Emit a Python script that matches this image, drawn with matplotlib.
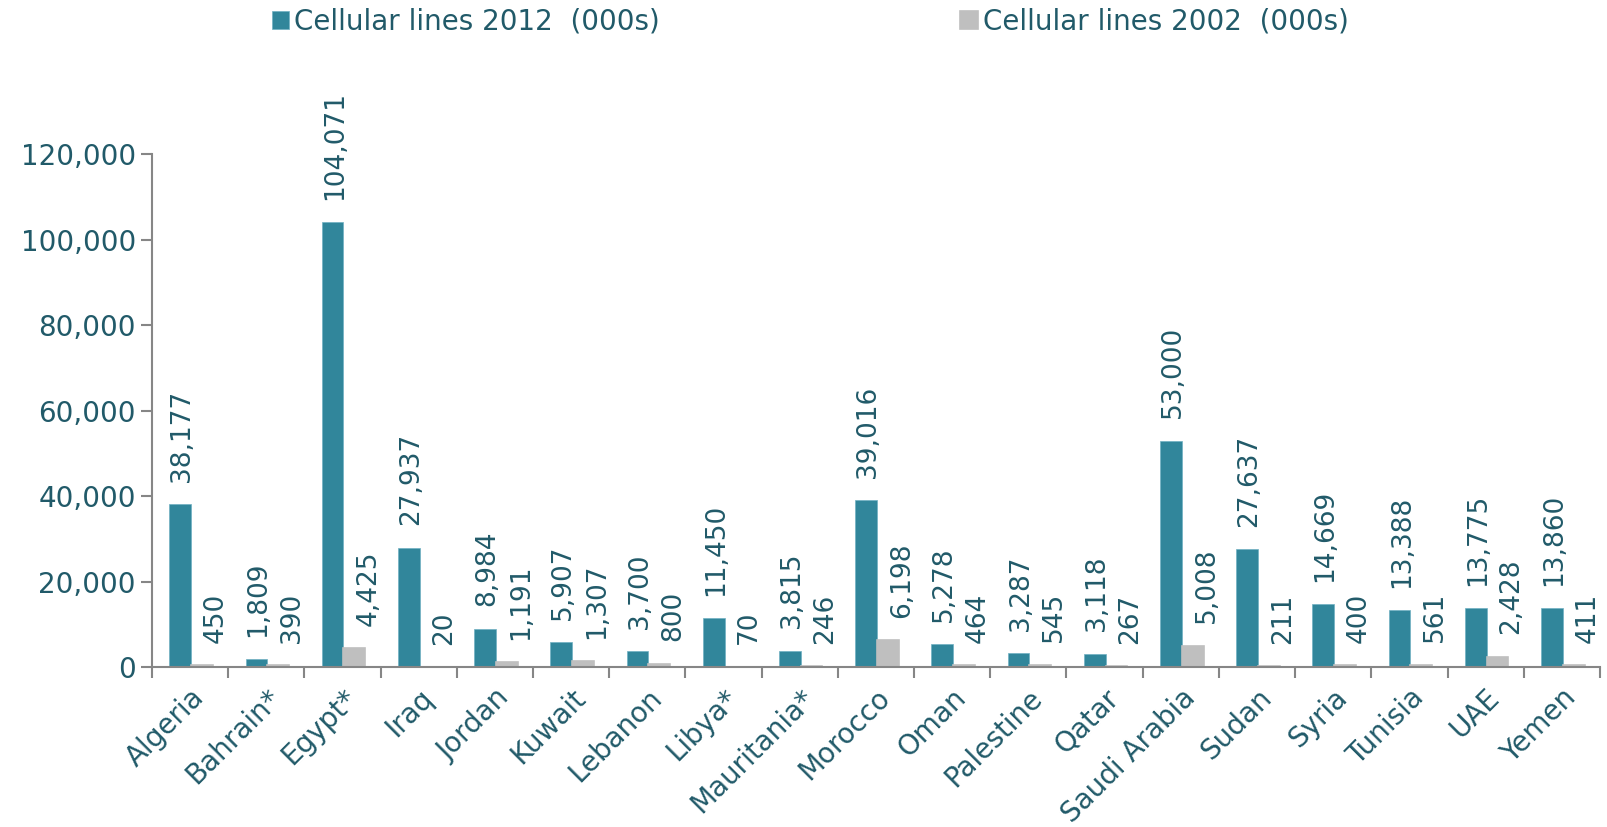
import numpy as np
import matplotlib.pyplot as plt

countries = ['Algeria', 'Bahrain*', 'Egypt*', 'Iraq', 'Jordan', 'Kuwait', 'Lebanon',
             'Libya*', 'Mauritania*', 'Morocco', 'Oman', 'Palestine', 'Qatar',
             'Saudi Arabia', 'Sudan', 'Syria', 'Tunisia', 'UAE', 'Yemen']
lines_2012 = [38177, 1809, 104071, 27937, 8984, 5907, 3700, 11450, 3815, 39016,
              5278, 3287, 3118, 53000, 27637, 14669, 13388, 13775, 13860]
lines_2002 = [450, 390, 4425, 20, 1191, 1307, 800, 70, 246, 6198,
              464, 545, 267, 5008, 211, 400, 561, 2428, 411]

teal = '#31869b'
grey = '#bfbfbf'
txt = '#215a69'
axc = '#868686'

fig = plt.figure(figsize=(16.08, 8.27), dpi=100)
ax = fig.add_axes([0.0945, 0.1935, 0.9005, 0.62])

x = np.arange(len(countries))
w = 0.285
b1 = ax.bar(x - w / 2 + 0.013, lines_2012, w, color=teal, edgecolor='#6fb0c2', linewidth=0.5,
            label='Cellular lines 2012  (000s)')
b2 = ax.bar(x + w / 2 + 0.013, lines_2002, w, color=grey, edgecolor=grey, linewidth=1.2,
            label='Cellular lines 2002  (000s)')

for bars, vals, dx in [(b1, lines_2012, 1.5), (b2, lines_2002, 10)]:
    for r, v in zip(bars, vals):
        ax.annotate(f'{v:,}', (r.get_x() + r.get_width() / 2, v),
                    xytext=(dx, 16), textcoords='offset points',
                    rotation=90, ha='center', va='bottom', fontsize=19,
                    color=txt, annotation_clip=False)

ax.set_xlim(-0.5, len(countries) - 0.5)
ax.set_ylim(0, 120000)
ax.set_yticks(np.arange(0, 120001, 20000))
ax.yaxis.set_major_formatter(plt.FuncFormatter(lambda v, p: f'{int(v):,}'))
ax.tick_params(axis='y', colors=axc, labelcolor=txt, labelsize=20, length=8, width=1.5)

ax.set_xticks(np.arange(-0.5, len(countries), 1))
ax.set_xticklabels([])
ax.set_xticks(x, minor=True)
ax.set_xticklabels(countries, minor=True, rotation=45, ha='right',
                   rotation_mode='anchor', fontsize=20, color=txt)
ax.tick_params(axis='x', which='major', colors=axc, length=8, width=1.5)
ax.tick_params(axis='x', which='minor', length=0, pad=12)

for s in ['top', 'right']:
    ax.spines[s].set_visible(False)
for s in ['left', 'bottom']:
    ax.spines[s].set_color(axc)
    ax.spines[s].set_linewidth(1.5)

leg = fig.legend(loc='center left', bbox_to_anchor=(0.169, 0.974), ncol=2,
                 frameon=False, fontsize=20, handlelength=0.63, handleheight=0.63,
                 handletextpad=0.18, columnspacing=10.8, borderpad=0, borderaxespad=0)
for t in leg.get_texts():
    t.set_color(txt)

fig.savefig('out.png', dpi=100)
